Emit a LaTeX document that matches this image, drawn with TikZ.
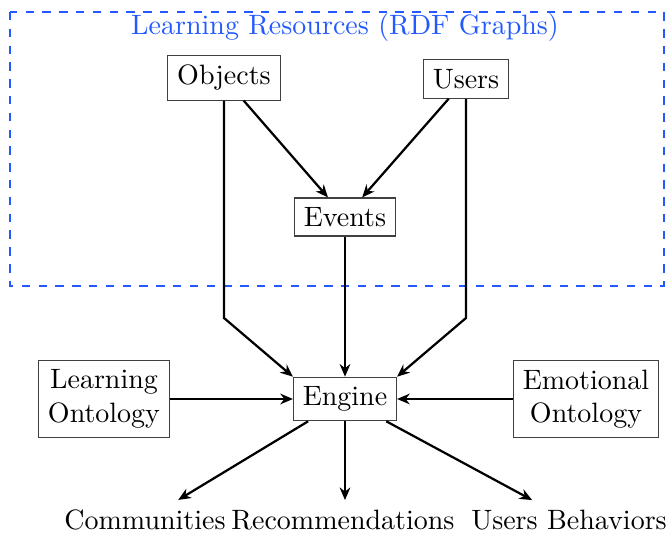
\documentclass[tikz,border=0pt]{standalone}
\usetikzlibrary{arrows.meta}
\definecolor{rdfblue}{RGB}{35,90,255}
\tikzset{
  box/.style={draw=black!75, inner sep=3.33pt},
  flow/.style={thick, -{Stealth[length=4.5pt,width=3.8pt]}},
}

\begin{document}
\begin{tikzpicture}[x=0.357pt, y=-0.357pt]
			%%%%% START %%%%%
			\useasboundingbox (0,0) rectangle (666,534);
			
			\draw[rdfblue, dashed] (10,12) rectangle (664,286);
			\node[rdfblue] (title) at (345,28) {Learning Resources (RDF Graphs)};
			
			\node[box] (objects) at (224,78) {Objects};
			\node[box] (users) at (466,79) {Users};
			\node[box] (events) at (345,217) {Events};
			
			\node[box] (engine) at (345,399) {Engine};
			\node[box, align=center] (learnonto) at (104,399) {Learning\\Ontology};
			\node[box, align=center] (emoonto) at (586,399) {Emotional\\Ontology};
			
			\node (communities) at (145,520) {Communities};
			\node (recommend) at (343,520) {Recommendations};
			\node (behaviors) at (569,520) {Users Behaviors};
			
			\coordinate (objbend) at (224,318);
			\coordinate (usrbend) at (466,318);
			
			\draw[flow] (objects) -- (events);
			\draw[flow] (users) -- (events);
			\draw[flow] (objects.south) -- (objbend) -- (engine.north west);
			\draw[flow] (users.south) -- (usrbend) -- (engine.north east);
			\draw[flow] (events) -- (engine);
			
			\draw[flow] (learnonto) -- (engine);
			\draw[flow] (emoonto) -- (engine);
			
			\draw[flow] (engine) -- (communities);
			\draw[flow] (engine.south) -- (engine.south |- recommend.north);
			\draw[flow] (engine) -- (behaviors);
			
			%%%%% END %%%%%
\end{tikzpicture}
\end{document}
